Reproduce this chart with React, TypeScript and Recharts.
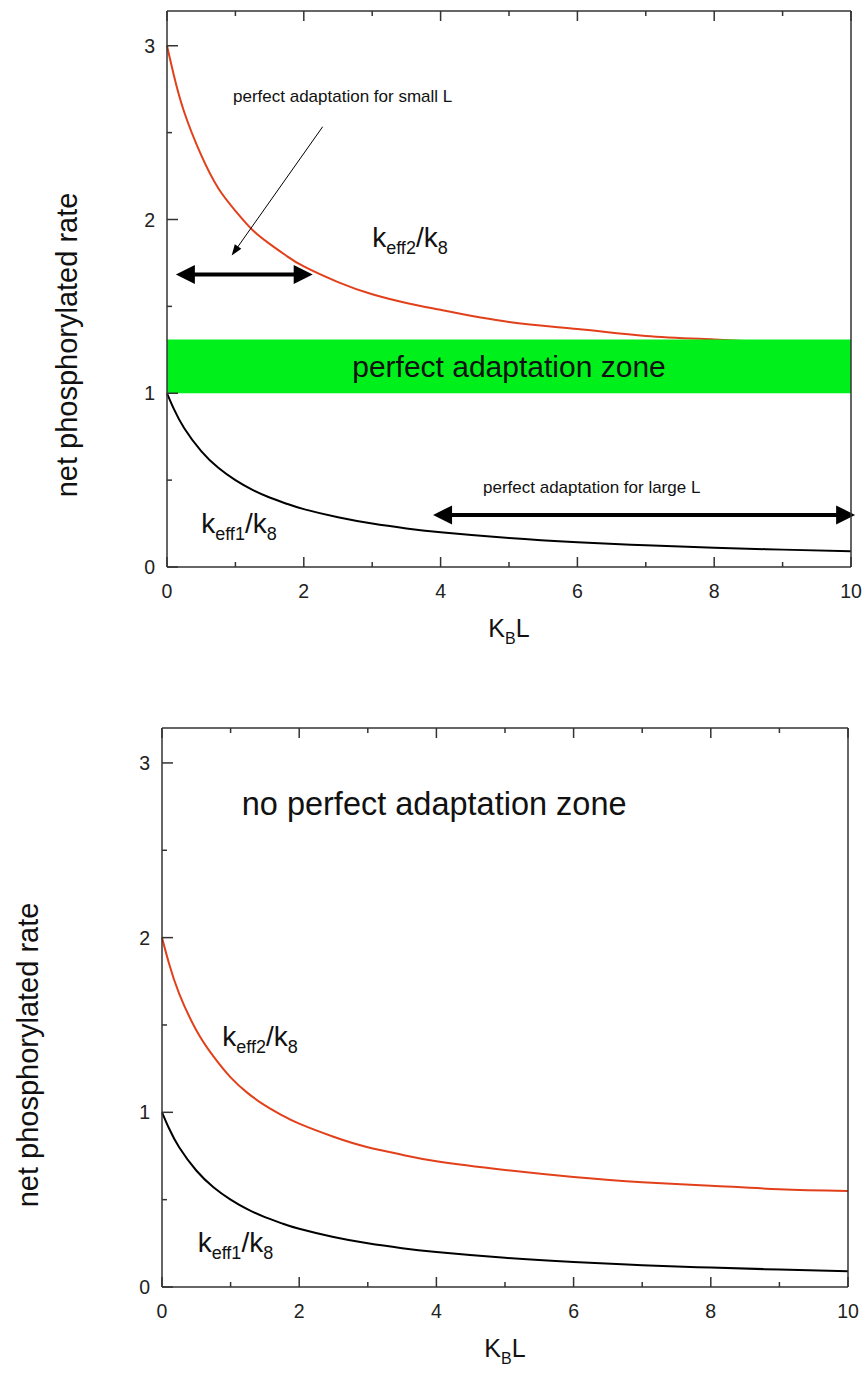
import React from 'react';
import {
  LineChart,
  Line,
  XAxis,
  YAxis,
  ReferenceArea,
  ReferenceLine,
  ReferenceDot,
} from 'recharts';

// K_B L sample points
const kbl = [0, 0.1, 0.25, 0.5, 0.75, 1, 1.25, 1.5, 1.75, 2, 2.5, 3, 3.5, 4, 5, 6, 7, 8, 9, 10];

// upper panel
const topKeff1 = [1, 0.91, 0.8, 0.667, 0.571, 0.5, 0.444, 0.4, 0.364, 0.333, 0.286, 0.25, 0.222, 0.2, 0.167, 0.143, 0.125, 0.111, 0.1, 0.091];
const topKeff2 = [3, 2.83, 2.62, 2.37, 2.18, 2.05, 1.94, 1.86, 1.79, 1.73, 1.64, 1.57, 1.52, 1.48, 1.41, 1.37, 1.33, 1.31, 1.29, 1.27];
const zoneBand = [1, 1.31];

// lower panel
const bottomKeff1 = [1, 0.91, 0.8, 0.667, 0.571, 0.5, 0.444, 0.4, 0.364, 0.333, 0.286, 0.25, 0.222, 0.2, 0.167, 0.143, 0.125, 0.111, 0.1, 0.09];
const bottomKeff2 = [2, 1.855, 1.68, 1.47, 1.32, 1.2, 1.11, 1.04, 0.983, 0.935, 0.86, 0.8, 0.757, 0.72, 0.67, 0.63, 0.6, 0.58, 0.56, 0.55];

const xTicks = [0, 1, 2, 3, 4, 5, 6, 7, 8, 9, 10];
const yTicks = [0, 0.5, 1, 1.5, 2, 2.5, 3];

const FONT = '"Liberation Sans", Arial, Helvetica, sans-serif';
const AXIS = '#333';
const RED = '#e2401b';

const BottomTick = (props: any) => {
  const { x, y, payload } = props;
  const major = payload.value % 2 === 0;
  return (
    <g>
      <line x1={x} y1={y} x2={x} y2={y - (major ? 10 : 5)} stroke={AXIS} strokeWidth={1.5} />
      {major && (
        <text x={x} y={y + 31} textAnchor="middle" fontSize={19.5} fontFamily={FONT} fill="#222">
          {payload.value}
        </text>
      )}
    </g>
  );
};

const TopTick = (props: any) => {
  const { x, y, payload } = props;
  const major = payload.value % 2 === 0;
  return <line x1={x} y1={y} x2={x} y2={y + (major ? 10 : 5)} stroke={AXIS} strokeWidth={1.5} />;
};

const LeftTick = (props: any) => {
  const { x, y, payload } = props;
  const major = Number.isInteger(payload.value);
  return (
    <g>
      <line x1={x} y1={y} x2={x + (major ? 11 : 5)} y2={y} stroke={AXIS} strokeWidth={1.5} />
      {major && (
        <text x={x - 12} y={y + 7} textAnchor="end" fontSize={19.5} fontFamily={FONT} fill="#222">
          {payload.value}
        </text>
      )}
    </g>
  );
};

const RightTick = (props: any) => {
  const { x, y, payload } = props;
  const major = Number.isInteger(payload.value);
  return <line x1={x} y1={y} x2={x - (major ? 11 : 5)} y2={y} stroke={AXIS} strokeWidth={1.5} />;
};

const head = (tx: number, ty: number, ux: number, uy: number, len: number, half: number) => {
  const bx = tx - ux * len;
  const by = ty - uy * len;
  return `${tx},${ty} ${bx - uy * half},${by + ux * half} ${bx + uy * half},${by - ux * half}`;
};

const DoubleArrow = (props: any) => {
  const { x1, y1, x2, y2 } = props;
  const d = Math.hypot(x2 - x1, y2 - y1) || 1;
  const ux = (x2 - x1) / d;
  const uy = (y2 - y1) / d;
  const len = 19;
  return (
    <g>
      <line x1={x1 + ux * 15} y1={y1 + uy * 15} x2={x2 - ux * 15} y2={y2 - uy * 15} stroke="#000" strokeWidth={4} />
      <polygon points={head(x1, y1, -ux, -uy, len, 9.5)} fill="#000" />
      <polygon points={head(x2, y2, ux, uy, len, 9.5)} fill="#000" />
    </g>
  );
};

const ThinArrow = (props: any) => {
  const { x1, y1, x2, y2 } = props;
  const d = Math.hypot(x2 - x1, y2 - y1) || 1;
  const ux = (x2 - x1) / d;
  const uy = (y2 - y1) / d;
  return (
    <g>
      <line x1={x1} y1={y1} x2={x2 - ux * 8} y2={y2 - uy * 8} stroke="#000" strokeWidth={1} />
      <polygon points={head(x2, y2, ux, uy, 11, 4)} fill="#000" />
    </g>
  );
};

const plainText = (text: string, size: number) => (p: any) => (
  <text x={p.cx} y={p.cy} fontSize={size} fontFamily={FONT} fill="#111">
    {text}
  </text>
);

const rateLabel = (n: string) => (p: any) => (
  <text x={p.cx} y={p.cy} fontSize={28} fontFamily={FONT} fill="#111">
    k
    <tspan fontSize={18} dy={7}>{`eff${n}`}</tspan>
    <tspan dy={-7}>/k</tspan>
    <tspan fontSize={18} dy={7}>8</tspan>
  </text>
);

interface PanelProps {
  k1: number[];
  k2: number[];
  top: number;
  height: number;
  margin: { top: number; right: number; bottom: number; left: number };
  yLabelX: number;
  yLabelY: number;
  children?: React.ReactNode;
}

const Panel: React.FC<PanelProps> = ({ k1, k2, top, height, margin, yLabelX, yLabelY, children }) => {
  const data = kbl.map((x, i) => ({ x, k1: k1[i], k2: k2[i] }));
  return (
    <div style={{ position: 'absolute', left: 0, top, width: 864, height }}>
      <LineChart width={864} height={height} data={data} margin={margin}>
        <XAxis
          xAxisId="b"
          dataKey="x"
          type="number"
          domain={[0, 10]}
          ticks={xTicks}
          interval={0}
          height={1}
          tickSize={0}
          tickMargin={0}
          tick={<BottomTick />}
          axisLine={{ stroke: AXIS, strokeWidth: 1.5 }}
          label={(p: any) => {
            const vb = p.viewBox;
            return (
              <text x={vb.x + vb.width / 2} y={vb.y + 70} textAnchor="middle" fontSize={25} fontFamily={FONT} fill="#111">
                K<tspan fontSize={16} dy={7}>B</tspan>
                <tspan dy={-7}>L</tspan>
              </text>
            );
          }}
        />
        <XAxis
          xAxisId="t"
          dataKey="x"
          type="number"
          orientation="top"
          domain={[0, 10]}
          ticks={xTicks}
          interval={0}
          height={1}
          tickSize={0}
          tickMargin={0}
          tick={<TopTick />}
          axisLine={{ stroke: AXIS, strokeWidth: 1.5 }}
        />
        <YAxis
          yAxisId="l"
          type="number"
          domain={[0, 3.2]}
          ticks={yTicks}
          interval={0}
          width={60}
          tickSize={0}
          tickMargin={0}
          tick={<LeftTick />}
          axisLine={{ stroke: AXIS, strokeWidth: 1.5 }}
          label={() => (
            <text
              x={yLabelX}
              y={yLabelY}
              transform={`rotate(-90, ${yLabelX}, ${yLabelY})`}
              textAnchor="middle"
              fontSize={29}
              fontFamily={FONT}
              fill="#111"
            >
              net phosphorylated rate
            </text>
          )}
        />
        <YAxis
          yAxisId="r"
          type="number"
          orientation="right"
          domain={[0, 3.2]}
          ticks={yTicks}
          interval={0}
          width={1}
          tickSize={0}
          tickMargin={0}
          tick={<RightTick />}
          axisLine={{ stroke: AXIS, strokeWidth: 1.5 }}
        />
        <Line xAxisId="b" yAxisId="l" dataKey="k1" type="natural" stroke="#000" strokeWidth={2} dot={false} isAnimationActive={false} />
        <Line xAxisId="b" yAxisId="l" dataKey="k2" type="natural" stroke={RED} strokeWidth={2} dot={false} isAnimationActive={false} />
        {children}
      </LineChart>
    </div>
  );
};

export default function App() {
  return (
    <div style={{ position: 'absolute', left: 0, top: 0, width: 864, height: 1376, background: '#fff', overflow: 'hidden' }}>
      <Panel
        k1={topKeff1}
        k2={topKeff2}
        top={0}
        height={680}
        margin={{ top: 10, right: 12, bottom: 112, left: 107 }}
        yLabelX={77}
        yLabelY={345}
      >
        <ReferenceArea
          xAxisId="b"
          yAxisId="l"
          x1={0}
          x2={10}
          y1={zoneBand[0]}
          y2={zoneBand[1]}
          fill="#00f01c"
          fillOpacity={1}
          stroke="none"
          zIndex={450}
          ifOverflow="visible"
          label={{ value: 'perfect adaptation zone', position: 'center', fontSize: 30, fill: '#111', fontFamily: FONT }}
        />
        <ReferenceLine
          xAxisId="b"
          yAxisId="l"
          segment={[{ x: 0.13, y: 1.684 }, { x: 2.13, y: 1.684 }]}
          ifOverflow="visible"
          shape={DoubleArrow}
        />
        <ReferenceLine
          xAxisId="b"
          yAxisId="l"
          segment={[{ x: 3.89, y: 0.3 }, { x: 10.06, y: 0.3 }]}
          ifOverflow="visible"
          shape={DoubleArrow}
        />
        <ReferenceLine
          xAxisId="b"
          yAxisId="l"
          segment={[{ x: 2.276, y: 2.534 }, { x: 0.946, y: 1.793 }]}
          ifOverflow="visible"
          shape={ThinArrow}
        />
        <ReferenceDot xAxisId="b" yAxisId="l" x={0.965} y={2.678} r={1} ifOverflow="visible" shape={plainText('perfect adaptation for small L', 17)} />
        <ReferenceDot xAxisId="b" yAxisId="l" x={4.62} y={0.425} r={1} ifOverflow="visible" shape={plainText('perfect adaptation for large L', 17)} />
        <ReferenceDot xAxisId="b" yAxisId="l" x={3.0} y={1.839} r={1} ifOverflow="visible" shape={rateLabel('2')} />
        <ReferenceDot xAxisId="b" yAxisId="l" x={0.5} y={0.195} r={1} ifOverflow="visible" shape={rateLabel('1')} />
      </Panel>
      <Panel
        k1={bottomKeff1}
        k2={bottomKeff2}
        top={700}
        height={676}
        margin={{ top: 27, right: 15, bottom: 88, left: 102 }}
        yLabelX={38}
        yLabelY={355}
      >
        <ReferenceDot xAxisId="b" yAxisId="l" x={1.162} y={2.7} r={1} ifOverflow="visible" shape={plainText('no perfect adaptation zone', 32.5)} />
        <ReferenceDot xAxisId="b" yAxisId="l" x={0.88} y={1.377} r={1} ifOverflow="visible" shape={rateLabel('2')} />
        <ReferenceDot xAxisId="b" yAxisId="l" x={0.52} y={0.202} r={1} ifOverflow="visible" shape={rateLabel('1')} />
      </Panel>
    </div>
  );
}
